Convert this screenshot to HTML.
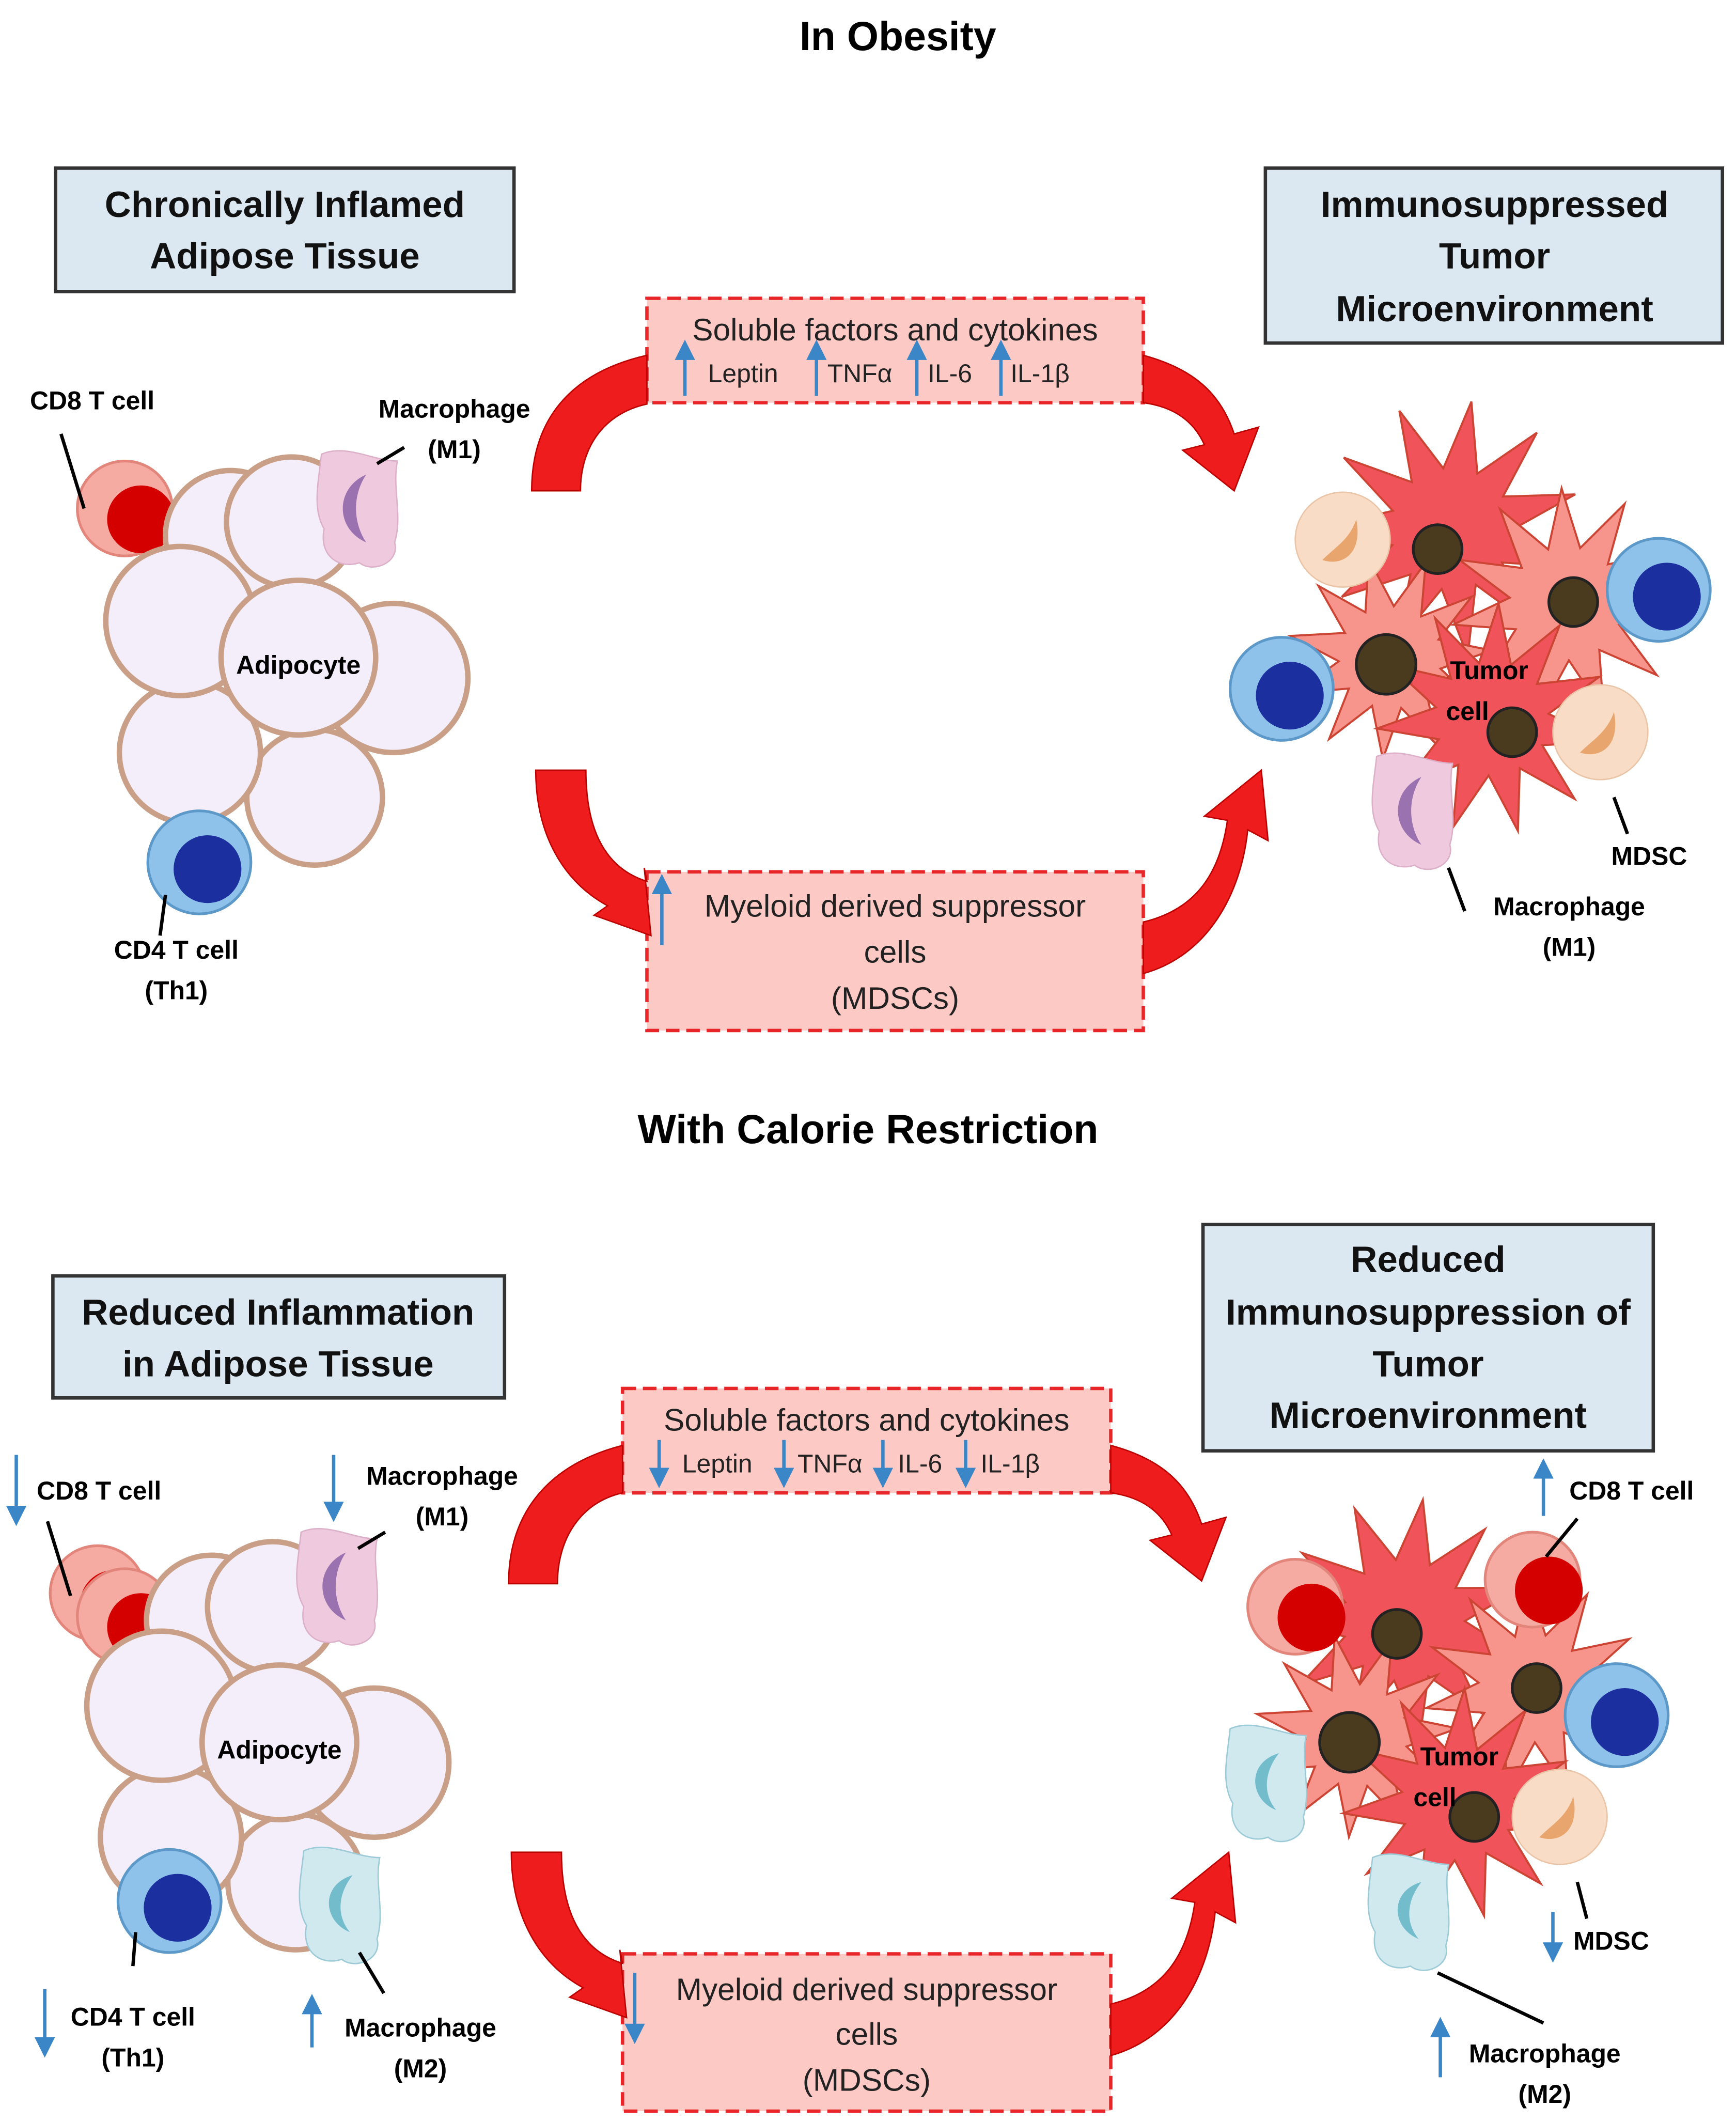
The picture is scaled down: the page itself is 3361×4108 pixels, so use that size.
<!DOCTYPE html>
<html><head><meta charset="utf-8"><style>
html,body{margin:0;padding:0;background:#fff}
svg{display:block}
text{font-family:"Liberation Sans",sans-serif}
</style></head><body>
<svg id="s" width="3361" height="4108" viewBox="0 0 1280 1565" preserveAspectRatio="none" xmlns="http://www.w3.org/2000/svg">
<defs>
<marker id="ba" markerWidth="6" markerHeight="6" refX="3" refY="3" orient="auto"><path d="M0,0 L6,3 L0,6 z" fill="#3a86c6"/></marker>
<g id="adi">
 <g fill="#f3eefa" stroke="#c9a087" stroke-width="4">
  <circle cx="170" cy="395" r="48"/>
  <circle cx="215" cy="385" r="48"/>
  <circle cx="290" cy="500" r="55"/>
  <circle cx="232" cy="588" r="50"/>
  <circle cx="140" cy="555" r="52"/>
  <circle cx="133" cy="458" r="55"/>
  <circle cx="220" cy="485" r="57"/>
 </g>
 <text x="220" y="497" font-size="19" font-weight="bold" text-anchor="middle">Adipocyte</text>
</g>
<g id="cd8"><circle cx="0" cy="0" r="35" fill="#f5aaa2" stroke="#e2867c" stroke-width="2"/><circle cx="12" cy="8" r="25" fill="#d40000"/></g>
<g id="cd4"><circle cx="0" cy="0" r="38" fill="#8ec2ea" stroke="#5c98c8" stroke-width="2"/><circle cx="6" cy="5" r="25" fill="#1c2f9e"/></g>
<g id="m1"><path d="M-28,-40 C-10,-48 10,-35 28,-35 C24,-15 32,5 26,25 C30,40 10,48 0,40 C-15,45 -30,35 -26,15 C-35,0 -30,-20 -28,-40z" fill="#efc9de" stroke="#dcb0c8"/><path d="M5,-25 C-18,-15 -18,15 5,25 C-5,10 -5,-10 5,-25z" fill="#9a72b0"/></g>
<g id="m2"><path d="M-28,-40 C-10,-48 10,-35 28,-35 C24,-15 32,5 26,25 C30,40 10,48 0,40 C-15,45 -30,35 -26,15 C-35,0 -30,-20 -28,-40z" fill="#cfe9ef" stroke="#9ccad6"/><path d="M8,-22 C-16,-15 -14,12 6,20 C-4,8 -3,-8 8,-22z" fill="#72bccc"/></g>
<g id="mdsc"><circle r="35" fill="#f9dcc6" stroke="#eac4a6"/><path d="M10,-15 C15,10 0,20 -15,15 C-5,5 5,0 10,-15z" fill="#e9a56e"/></g>
</defs>

<!-- titles -->
<text x="662" y="37" font-size="30" font-weight="bold" text-anchor="middle">In Obesity</text>
<text x="640" y="843" font-size="30" font-weight="bold" text-anchor="middle">With Calorie Restriction</text>

<!-- boxes -->
<g stroke="#333" stroke-width="2.5" fill="#dbe8f2">
<rect x="41" y="124" width="338" height="91"/>
<rect x="933" y="124" width="337" height="129"/>
<rect x="39" y="941" width="333" height="90"/>
<rect x="887" y="903" width="332" height="167"/>
</g>
<g font-size="27" font-weight="bold" text-anchor="middle" fill="#111">
<text x="210" y="160">Chronically Inflamed</text><text x="210" y="198">Adipose Tissue</text>
<text x="1102" y="160">Immunosuppressed</text><text x="1102" y="198">Tumor</text><text x="1102" y="237">Microenvironment</text>
<text x="205" y="977">Reduced Inflammation</text><text x="205" y="1015">in Adipose Tissue</text>
<text x="1053" y="938">Reduced</text><text x="1053" y="977">Immunosuppression of</text><text x="1053" y="1015">Tumor</text><text x="1053" y="1053">Microenvironment</text>
</g>

<!-- dashed boxes -->
<g fill="#fdc9c5" stroke="#e8262a" stroke-width="2.5" stroke-dasharray="10,5">
<rect x="477" y="220" width="366" height="77"/>
<rect x="477" y="643" width="366" height="117"/>
<rect x="459" y="1024" width="360" height="77"/>
<rect x="459" y="1441" width="360" height="116"/>
</g>
<g font-size="23" text-anchor="middle" fill="#222">
<text x="660" y="251">Soluble factors and cytokines</text>
<text x="660" y="676">Myeloid derived suppressor</text><text x="660" y="710">cells</text><text x="660" y="744">(MDSCs)</text>
<text x="639" y="1055">Soluble factors and cytokines</text>
<text x="639" y="1475">Myeloid derived suppressor</text><text x="639" y="1508">cells</text><text x="639" y="1542">(MDSCs)</text>
</g>
<g font-size="19" fill="#222">
<text x="522" y="282">Leptin</text><text x="610" y="282">TNFα</text><text x="684" y="282">IL-6</text><text x="745" y="282">IL-1β</text>
<text x="503" y="1086">Leptin</text><text x="588" y="1086">TNFα</text><text x="662" y="1086">IL-6</text><text x="723" y="1086">IL-1β</text>
</g>
<!-- blue arrows -->
<g stroke="#3a86c6" stroke-width="2.5" marker-end="url(#ba)">
<line x1="505" y1="292" x2="505" y2="258"/><line x1="602" y1="292" x2="602" y2="258"/><line x1="676" y1="292" x2="676" y2="258"/><line x1="738" y1="292" x2="738" y2="258"/>
<line x1="488" y1="697" x2="488" y2="652"/>
<line x1="486" y1="1062" x2="486" y2="1090"/><line x1="578" y1="1062" x2="578" y2="1090"/><line x1="651" y1="1062" x2="651" y2="1090"/><line x1="712" y1="1062" x2="712" y2="1090"/>
<line x1="468" y1="1455" x2="468" y2="1500"/>
<line x1="12" y1="1073" x2="12" y2="1118"/><line x1="246" y1="1073" x2="246" y2="1115"/>
<line x1="33" y1="1467" x2="33" y2="1510"/><line x1="230" y1="1510" x2="230" y2="1478"/>
<line x1="1138" y1="1118" x2="1138" y2="1083"/><line x1="1145" y1="1410" x2="1145" y2="1440"/>
<line x1="1062" y1="1532" x2="1062" y2="1495"/>
</g>

<!-- red curved arrows -->
<g fill="#ee1c1c" stroke="#b00" stroke-width="1">
<path d="M392,362 C392,310 420,275 477,262 L477,298 C445,305 428,330 428,362 z"/>
<path d="M843,262 C880,272 900,290 910,320 L928,315 L910,362 L872,332 L888,328 C880,310 865,300 843,297 z"/>
<path d="M395,568 L432,568 C432,610 445,640 477,650 L475,640 L480,690 L438,675 L448,668 C415,650 395,615 395,568 z"/>
<path d="M843,680 C885,670 900,640 905,605 L888,602 L930,568 L935,620 L920,612 C915,660 890,705 843,718 z"/>
<path d="M375,1168 C375,1115 405,1080 459,1066 L459,1101 C428,1108 411,1135 411,1168 z"/>
<path d="M819,1066 C856,1076 876,1094 886,1124 L904,1119 L886,1166 L848,1136 L864,1132 C856,1114 841,1104 819,1101 z"/>
<path d="M377,1366 L414,1366 C414,1408 427,1438 459,1448 L457,1438 L462,1488 L420,1473 L430,1466 C397,1448 377,1413 377,1366 z"/>
<path d="M819,1478 C861,1468 876,1438 881,1403 L864,1400 L906,1366 L911,1418 L896,1410 C891,1458 866,1503 819,1516 z"/>
</g>

<!-- TOP LEFT cells -->
<use href="#cd8" transform="translate(92,375)"/>
<use href="#adi"/>
<use href="#m1" transform="translate(265,375)"/>
<use href="#cd4" transform="translate(147,636)"/>
<g stroke="#000" stroke-width="2.5" fill="none">
<line x1="45" y1="320" x2="62" y2="375"/><line x1="298" y1="330" x2="278" y2="342"/><line x1="118" y1="690" x2="122" y2="660"/>
</g>
<g font-size="19" font-weight="bold" text-anchor="middle">
<text x="68" y="302">CD8 T cell</text><text x="335" y="308">Macrophage</text><text x="335" y="338">(M1)</text>
<text x="130" y="707">CD4 T cell</text><text x="130" y="737">(Th1)</text>
</g>

<!-- BOTTOM LEFT cells -->
<use href="#cd8" transform="translate(72,1175)"/>
<use href="#cd8" transform="translate(92,1192)"/>
<use href="#adi" transform="translate(-14,800)"/>
<use href="#m1" transform="translate(250,1170)"/>
<use href="#m2" transform="translate(252,1405)"/>
<use href="#cd4" transform="translate(125,1402)"/>
<g stroke="#000" stroke-width="2.5" fill="none">
<line x1="35" y1="1122" x2="52" y2="1177"/><line x1="284" y1="1130" x2="264" y2="1142"/><line x1="98" y1="1450" x2="100" y2="1425"/><line x1="283" y1="1470" x2="265" y2="1440"/>
</g>
<g font-size="19" font-weight="bold" text-anchor="middle">
<text x="73" y="1106">CD8 T cell</text><text x="326" y="1095">Macrophage</text><text x="326" y="1125">(M1)</text>
<text x="98" y="1494">CD4 T cell</text><text x="98" y="1524">(Th1)</text>
<text x="310" y="1502">Macrophage</text><text x="310" y="1532">(M2)</text>
</g>

<!-- TUMOR top -->
<g id="t1"></g>
<use href="#mdsc" transform="translate(990,398)"/>
<use href="#mdsc" transform="translate(1180,540)"/>
<use href="#cd4" transform="translate(1223,435)"/>
<use href="#cd4" transform="translate(945,508)"/>
<use href="#m1" transform="translate(1043,598)"/>
<g id="n1"></g>
<g stroke="#000" stroke-width="2.5"><line x1="1190" y1="588" x2="1200" y2="615"/><line x1="1068" y1="640" x2="1080" y2="672"/></g>
<g font-size="19" font-weight="bold" text-anchor="middle">
<text x="1098" y="501">Tumor</text><text x="1082" y="531">cell</text>
<text x="1216" y="638">MDSC</text><text x="1157" y="675">Macrophage</text><text x="1157" y="705">(M1)</text>
</g>

<!-- TUMOR bottom -->
<g id="t2"></g>
<use href="#cd8" transform="translate(955,1185)"/>
<use href="#cd8" transform="translate(1130,1165)"/>
<use href="#cd4" transform="translate(1192,1265)"/>
<use href="#mdsc" transform="translate(1150,1340)"/>
<use href="#m2" transform="translate(935,1315)"/>
<use href="#m2" transform="translate(1040,1410)"/>
<g id="n2"></g>
<g stroke="#000" stroke-width="2.5"><line x1="1163" y1="1120" x2="1140" y2="1148"/><line x1="1163" y1="1388" x2="1170" y2="1415"/><line x1="1060" y1="1455" x2="1138" y2="1492"/></g>
<g font-size="19" font-weight="bold" text-anchor="middle">
<text x="1076" y="1302">Tumor</text><text x="1058" y="1332">cell</text>
<text x="1203" y="1106">CD8 T cell</text><text x="1188" y="1438">MDSC</text>
<text x="1139" y="1521">Macrophage</text><text x="1139" y="1551">(M2)</text>
</g>
</svg>
<script>
var NS="http://www.w3.org/2000/svg";
function star(g,cx,cy,r1,r2,n,fill,rot){
 var p=[];for(var i=0;i<2*n;i++){var r=i%2?r2:r1;var a=rot+i*Math.PI/n;p.push((cx+r*Math.cos(a)).toFixed(1)+","+(cy+r*Math.sin(a)).toFixed(1));}
 var e=document.createElementNS(NS,"polygon");e.setAttribute("points",p.join(" "));e.setAttribute("fill",fill);e.setAttribute("stroke","#c43");e.setAttribute("stroke-width","1.5");g.appendChild(e);}
function nuc(g,cx,cy,r){var c=document.createElementNS(NS,"circle");c.setAttribute("cx",cx);c.setAttribute("cy",cy);c.setAttribute("r",r);c.setAttribute("fill","#4a3b1f");c.setAttribute("stroke","#222");c.setAttribute("stroke-width","2");g.appendChild(c);}
var t1=document.getElementById("t1"),n1=document.getElementById("n1");
star(t1,1070,390,95,45,11,"#f0545a",0.3);
star(t1,1155,445,85,42,11,"#f7958c",0.1);
star(t1,1025,485,75,38,11,"#f7958c",0.5);
star(t1,1100,530,85,42,11,"#f0545a",0.2);
nuc(n1,1060,405,18);nuc(n1,1160,444,18);nuc(n1,1022,490,22);nuc(n1,1115,540,18);
var t2=document.getElementById("t2"),n2=document.getElementById("n2");
star(t2,1035,1195,90,45,11,"#f0545a",0.3);
star(t2,1130,1245,80,40,11,"#f7958c",0.1);
star(t2,1000,1280,75,38,11,"#f7958c",0.5);
star(t2,1075,1330,85,42,11,"#f0545a",0.2);
nuc(n2,1030,1205,18);nuc(n2,1133,1245,18);nuc(n2,995,1285,22);nuc(n2,1087,1340,18);
</script>
</body></html>
